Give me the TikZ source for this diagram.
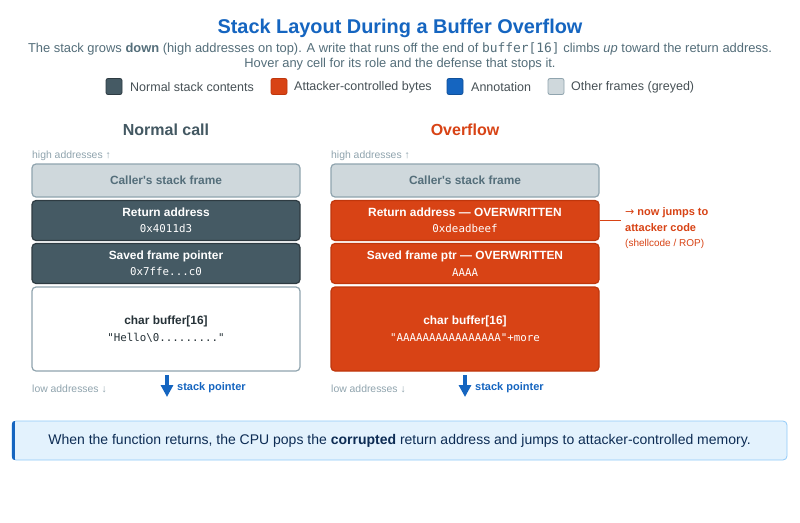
\documentclass[tikz,border=0pt]{standalone}
\usepackage{fontspec}
\setmainfont{Liberation Sans}
\newfontfamily\monof{DejaVu Sans Mono}
\newfontfamily\arrowf{DejaVu Sans}
\usetikzlibrary{arrows.meta}
\definecolor{slate}{HTML}{455A64}
\definecolor{slateb}{HTML}{2E3B42}
\definecolor{orng}{HTML}{D84315}
\definecolor{orngb}{HTML}{BF360C}
\definecolor{blu}{HTML}{1565C0}
\definecolor{greyfill}{HTML}{CFD8DC}
\definecolor{greyline}{HTML}{90A4AE}
\definecolor{greytxt}{HTML}{546E7A}
\definecolor{ink}{HTML}{263238}
\definecolor{notefill}{HTML}{E3F2FD}
\definecolor{noteline}{HTML}{90CAF9}
\definecolor{noteink}{HTML}{0D2C54}
\tikzset{
  cell/.style={rounded corners=4pt, minimum width=268pt, align=center, line width=1.2pt, inner sep=0pt,
    font=\bfseries\fontsize{11.9}{14}\selectfont},
  callerbox/.style={cell, fill=greyfill, draw=greyline, text=greytxt, minimum height=33pt},
  normbox/.style={cell, fill=slate, draw=slateb, text=white, minimum height=40pt},
  atkbox/.style={cell, fill=orng, draw=orngb, text=white, minimum height=40pt},
  bufbox/.style={cell, fill=white, draw=greyline, text=ink, minimum height=84pt},
  atkbuf/.style={cell, fill=orng, draw=orngb, text=white, minimum height=84pt},
  hint/.style={text=greyline, font=\fontsize{10.4}{12}\selectfont, anchor=west, inner sep=0pt},
  colhead/.style={font=\bfseries\fontsize{16}{19}\selectfont},
  legsq/.style={rounded corners=2pt, minimum size=16pt, inner sep=0pt, line width=0.8pt},
  legtxt/.style={anchor=west, text=ink!85, font=\fontsize{12.5}{14}\selectfont, inner sep=0pt},
  sparrow/.style={blu, line width=3.2pt, -{Triangle[width=12pt,length=12pt]}},
  sptxt/.style={anchor=west, text=blu, font=\bfseries\fontsize{11}{13}\selectfont, inner sep=0pt},
}
\newcommand{\mline}[1]{{\monof\mdseries\fontsize{10.8}{13}\selectfont #1}}
\begin{document}
\begin{tikzpicture}[x=1pt,y=-1pt]
\useasboundingbox[fill=white] (0,0) rectangle (800,522);

% title
\node[text=blu, font=\bfseries\fontsize{19.9}{24}\selectfont] (title) at (400,28) {Stack Layout During a Buffer Overflow};
\node[text=greytxt, font=\fontsize{12.9}{15}\selectfont] (sub1) at (400,48.5)
  {The stack grows \textbf{down} (high addresses on top). A write that runs off the end of {\monof buffer[16]} climbs \textit{up} toward the return address.};
\node[text=greytxt, font=\fontsize{12.9}{15}\selectfont] (sub2) at (400,64.5)
  {Hover any cell for its role and the defense that stops it.};

% legend
\node[legsq, fill=slate, draw=slateb] (lg1) at (114,86.5) {};
\node[legtxt] (lt1) at (130,87.5) {Normal stack contents};
\node[legsq, fill=orng, draw=orngb] (lg2) at (279,86.5) {};
\node[legtxt] (lt2) at (294,87.5) {Attacker-controlled bytes};
\node[legsq, fill=blu, draw=blu!80!black] (lg3) at (455,86.5) {};
\node[legtxt] (lt3) at (471,87.5) {Annotation};
\node[legsq, fill=greyfill, draw=greyline] (lg4) at (556,86.5) {};
\node[legtxt] (lt4) at (571,87.5) {Other frames (greyed)};

% column headers
\node[colhead, text=greytxt!80!black] (h1) at (166,130) {Normal call};
\node[colhead, text=orng] (h2) at (465,130) {Overflow};

\node[hint] (hi1) at (32,155.5) {high addresses ↑};
\node[hint] (hi2) at (331,155.5) {high addresses ↑};

% left stack
\node[callerbox] (c1) at (166,180.5) {Caller\textquotesingle s stack frame};
\node[normbox] (r1) at (166,220.5) {Return address\\[2.5pt]\mline{0x4011d3}};
\node[normbox] (f1) at (166,263.5) {Saved frame pointer\\[2.5pt]\mline{0x7ffe...c0}};
\node[bufbox] (b1) at (166,329) {char buffer[16]\\[2.5pt]\mline{"Hello\textbackslash 0........."}};

% right stack
\node[callerbox] (c2) at (465,180.5) {Caller\textquotesingle s stack frame};
\node[atkbox] (r2) at (465,220.5) {Return address — OVERWRITTEN\\[2.5pt]\mline{0xdeadbeef}};
\node[atkbox] (f2) at (465,263.5) {Saved frame ptr — OVERWRITTEN\\[2.5pt]\mline{AAAA}};
\node[atkbuf] (b2) at (465,329) {char buffer[16]\\[2.5pt]\mline{"AAAAAAAAAAAAAAAA"+more}};

% annotation
\coordinate (ann) at (621,220.5);
\draw[orng, line width=1.5pt] (r2.east) -- (ann);
\node[anchor=north west, inner sep=0pt, align=left, text=orng, font=\bfseries\fontsize{11}{16}\selectfont] (annt) at (625,207.5)
  {{\arrowf\mdseries →} now jumps to\\attacker code\\[-1pt]{\mdseries\fontsize{10}{12}\selectfont (shellcode / ROP)}};

% low addresses
\node[hint] (lo1) at (32,389) {low addresses ↓};
\node[hint] (lo2) at (331,389) {low addresses ↓};

% stack pointers
\coordinate (spa1) at (167,375);
\coordinate (spb1) at (167,397);
\draw[sparrow] (spa1) -- (spb1);
\node[sptxt] (spt1) at (177,388) {stack pointer};
\coordinate (spa2) at (465,375);
\coordinate (spb2) at (465,397);
\draw[sparrow] (spa2) -- (spb2);
\node[sptxt] (spt2) at (475,388) {stack pointer};

% bottom note
\node[draw=noteline, fill=notefill, rounded corners=4pt, line width=0.8pt, minimum width=775pt, minimum height=39pt,
  text=noteink, font=\fontsize{14}{16}\selectfont] (note) at (399.5,440.5)
  {When the function returns, the CPU pops the \textbf{corrupted} return address and jumps to attacker-controlled memory.};
\begin{scope}
  \clip[rounded corners=4pt] (note.north west) rectangle (note.south east);
  \fill[blu] (note.north west) rectangle ([xshift=3pt]note.south west);
\end{scope}
\end{tikzpicture}
\end{document}
